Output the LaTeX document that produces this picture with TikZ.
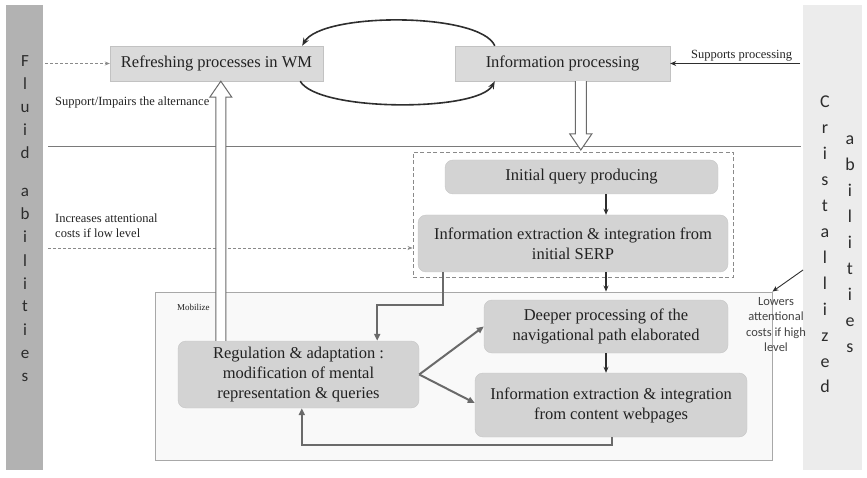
\documentclass[tikz,border=0pt]{standalone}
\usepackage{fontspec}
\setmainfont{Liberation Serif}
\newfontfamily\carl{Carlito}
\usetikzlibrary{arrows.meta,calc}
\definecolor{lbarc}{HTML}{B2B2B2}
\definecolor{rbarc}{HTML}{ECECEC}
\definecolor{barletter}{HTML}{2C2C2C}
\definecolor{topfill}{HTML}{DADADA}
\definecolor{topedge}{HTML}{C2C2C2}
\definecolor{rfill}{HTML}{D3D3D3}
\definecolor{redge}{HTML}{C6C6C6}
\definecolor{bigfill}{HTML}{F9F9F9}
\definecolor{bigedge}{HTML}{A8A8A8}
\definecolor{txt}{HTML}{222222}
\definecolor{darkc}{HTML}{2E2E2E}
\definecolor{garrc}{HTML}{6A6A6A}
\definecolor{dashc}{HTML}{8A8A8A}
\definecolor{linec}{HTML}{7A7A7A}
\begin{document}
\begin{tikzpicture}[x=1pt,y=-1pt,
  topbox/.style={draw=topedge, fill=topfill, inner sep=0pt, text=txt, font=\fontsize{16.5}{20}\selectfont},
  rbox/.style={draw=redge, fill=rfill, rounded corners=8pt, inner sep=0pt, align=center, text=txt, font=\fontsize{16.5}{20}\selectfont},
  smalltxt/.style={text=txt, inner sep=0pt, font=\fontsize{12.5}{15}\selectfont},
  fluidl/.style={anchor=base, inner sep=0pt, text=barletter, font=\carl\fontsize{17}{20}\selectfont},
  cristl/.style={anchor=base, inner sep=0pt, text=barletter, font=\carl\fontsize{18}{21}\selectfont},
  darr/.style={draw=darkc, line width=1.3pt, -{Stealth[length=6pt,width=5pt]}},
  curvarr/.style={draw=darkc, line width=1.6pt, -{Stealth[length=8pt,width=6pt]}},
  garr/.style={draw=garrc, line width=2pt, -{Triangle[length=7pt,width=6pt]}},
  dasharr/.style={draw=dashc, line width=0.9pt, dash pattern=on 3pt off 2pt, -{Stealth[length=5pt,width=4pt]}},
  hollow/.style={draw=garrc, fill=white, line width=1pt, line join=miter}
]
\useasboundingbox (0,0) rectangle (867,478);
% side bars
\node[fill=lbarc, minimum width=37, minimum height=465, inner sep=0] (lbar) at (24.5,237.5) {};
\node[fill=rbarc, minimum width=59, minimum height=465, inner sep=0] (rbar) at (832.5,237.5) {};
\foreach \l [count=\k from 0] in {F,l,u,i,d} \node[fluidl] (fa\k) at (25,67+23*\k) {\l};
\foreach \l [count=\k from 0] in {a,b,i,l,i,t,i,e,s} \node[fluidl] (fb\k) at (25,197+23*\k) {\l};
\foreach \l [count=\k from 0] in {C,r,i,s,t,a,l,l,i,z,e,d} \node[cristl] (ca\k) at (825,108+25.9*\k) {\l};
\foreach \l [count=\k from 0] in {a,b,i,l,i,t,i,e,s} \node[cristl] (cb\k) at (850,144.5+26*\k) {\l};
% big lower box and dashed box
\node[draw=bigedge, fill=bigfill, line width=0.9pt, minimum width=617, minimum height=168, inner sep=0] (bigbox) at (463.5,376) {};
\node[draw=dashc, line width=0.9pt, dash pattern=on 4pt off 2.5pt, minimum width=320, minimum height=125, inner sep=0] (dbox) at (573,214.5) {};
% horizontal separator
\coordinate (hlA) at (48,147);
\coordinate (hlB) at (801,147);
\draw[draw=linec, line width=1pt] (hlA) -- (hlB);
% top boxes
\node[topbox, minimum width=213, minimum height=35] (wm) at (216.5,63.5) {Refreshing processes in WM};
\node[topbox, minimum width=215, minimum height=35] (info) at (562.5,63.5) {Information processing};
% rounded boxes
\node[rbox, minimum width=273, minimum height=34] (iq) at (581.5,177) {Initial query producing};
\node[rbox, minimum width=310, minimum height=57] (serp) at (573,243.5) {Information extraction \& integration from\\initial SERP};
\node[rbox, minimum width=244, minimum height=53] (deep) at (606,326.5) {Deeper processing of the\\navigational path elaborated};
\node[rbox, minimum width=272, minimum height=64] (content) at (611,405) {Information extraction \& integration\\from content webpages};
\node[rbox, minimum width=241, minimum height=67] (reg) at (298.5,374.5) {Regulation \& adaptation :\\modification of mental\\representation \& queries};
% curved arrows between top boxes
\draw[curvarr] ([xshift=40]info.north west) .. controls (480,12) and (322,12) .. ([xshift=-21]wm.north east);
\draw[curvarr] ([xshift=-23]wm.south east) .. controls (318,112) and (478,112) .. ([xshift=40]info.south west);
% supports processing
\coordinate (sp) at (800,63.5);
\draw[darr, line width=0.9pt] (sp) -- node[smalltxt, above, inner sep=1.5pt, pos=0.45] (sptxt) {Supports processing} (info.east);
% fluid dashed arrows
\coordinate (fl1) at (45,63.5);
\draw[dasharr] (fl1) -- (wm.west);
\coordinate (fl2) at (48,248);
\draw[dasharr] (fl2) -- (dbox.west |- fl2);
% labels left
\node[smalltxt, anchor=west] (supimp) at (55,102) {Support/Impairs the alternance};
\node[smalltxt, anchor=north west, align=left] (incr) at (55,214) {Increases attentional\\costs if low level};
\node[text=txt, inner sep=0, anchor=west, font=\fontsize{9}{10}\selectfont] (mob) at (177,307) {Mobilize};
% hollow up arrow (Mobilize)
\coordinate (upA) at ([xshift=111]wm.south west);
\coordinate (upB) at (upA |- reg.north);
\draw[hollow] ($(upB)+(-5,0)$) -- ($(upA)+(-5,16)$) -- ($(upA)+(-11,16)$) -- (upA) -- ($(upA)+(11,16)$) -- ($(upA)+(5,16)$) -- ($(upB)+(5,0)$);
% hollow down arrow
\coordinate (dnA) at ([xshift=126]info.south west);
\coordinate (dnB) at (dnA |- 0,150);
\draw[hollow] ($(dnA)+(-5.5,0)$) -- ($(dnB)+(-5.5,-16)$) -- ($(dnB)+(-11,-16)$) -- (dnB) -- ($(dnB)+(11,-16)$) -- ($(dnB)+(5.5,-16)$) -- ($(dnA)+(5.5,0)$);
% vertical flow arrows
\coordinate (ax) at (606,0);
\draw[darr] (iq.south -| ax) -- (serp.north -| ax);
\draw[darr] (serp.south -| ax) -- (bigbox.north -| ax);
\draw[darr] (deep.south -| ax) -- (content.north -| ax);
% gray connectors
\draw[garr] ([xshift=25]serp.south west) -- ++(0,33) -| ([xshift=-42]reg.north east);
\draw[garr] (reg.east) -- (deep.west);
\draw[garr] (reg.east) -- ([yshift=2]content.west);
\draw[garr] ([xshift=137]content.south west) -- ++(0,8) -| ([xshift=124]reg.south west);
% lowers attentional costs
\coordinate (lw) at (803,270);
\draw[darr, line width=0.9pt] (lw) -- (bigbox.north east);
\node[inner sep=0, align=center, text=txt!85, font=\carl\fontsize{12.5}{15.5}\selectfont, anchor=north] (lowtxt) at (776,297) {Lowers\\attentional\\costs if high\\level};
\end{tikzpicture}
\end{document}
